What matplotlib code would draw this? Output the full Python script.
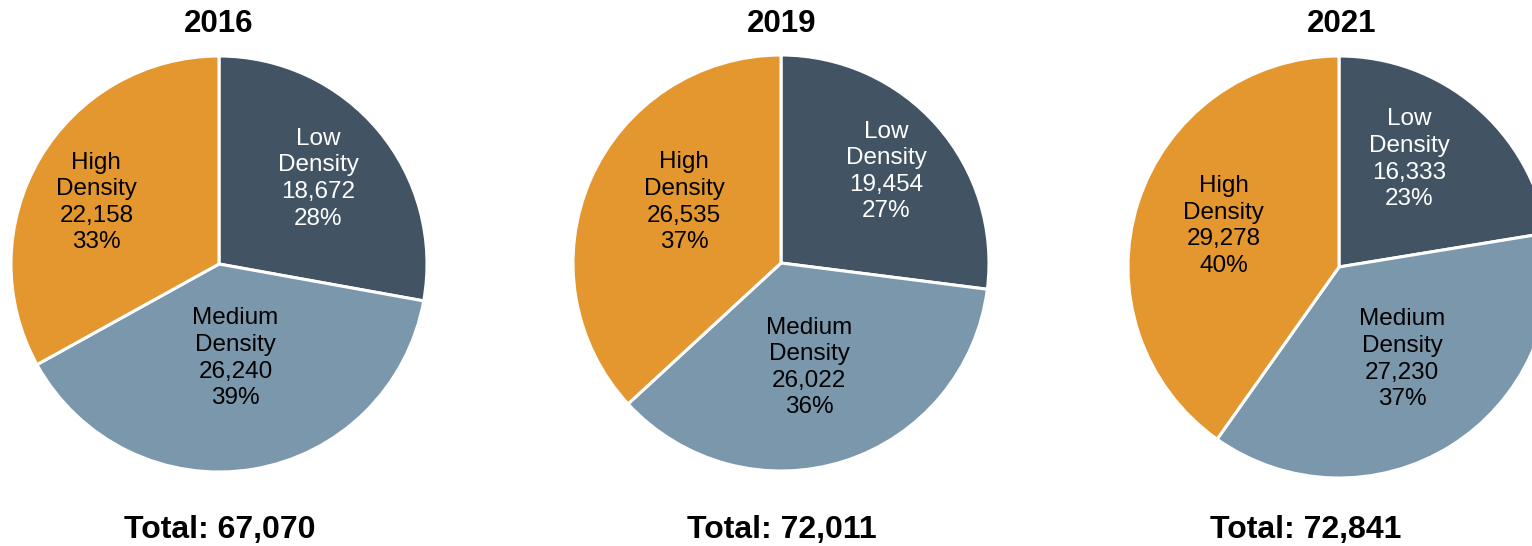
import matplotlib
matplotlib.use("Agg")
import matplotlib.pyplot as plt
import numpy as np

plt.rcParams['font.family'] = ['Liberation Sans', 'DejaVu Sans']

# Housing units by density type
years = ["2016", "2019", "2021"]
categories = ["Low Density", "Medium Density", "High Density"]
low_units = [18672, 19454, 16333]
medium_units = [26240, 26022, 27230]
high_units = [22158, 26535, 29278]
# published shares (%) per year: low, medium, high
low_pct = [28, 27, 23]
medium_pct = [39, 36, 37]
high_pct = [33, 37, 40]

colors = ["#425364", "#7A97AC", "#E3972E"]
text_colors = ["white", "black", "black"]

W, H = 1532, 546
fig = plt.figure(figsize=(W / 100, H / 100), dpi=100)
ax = fig.add_axes([0, 0, 1, 1])

# pie layout in pixel units (y measured from the top)
centers = [(219, 264), (781, 263), (1339, 267)]
radii = [208, 208, 211]
title_x = [219, 782, 1342]
total_x = [219.5, 782, 1306]
# label offsets per wedge: (radius fraction, angle in degrees)
label_pos = [
    [(0.63, 40.6), (0.46, -80.0), (0.66, 153.4)],
    [(0.67, 41.0), (0.52, -75.0), (0.55, 148.0)],
    [(0.61, 56.8), (0.53, -55.6), (0.58, 160.5)],
]

for i, yr in enumerate(years):
    vals = [low_units[i], medium_units[i], high_units[i]]
    pcts = [low_pct[i], medium_pct[i], high_pct[i]]
    total = sum(vals)
    cx, cy = centers[i]
    cy_d = H - cy
    r = radii[i]
    ax.pie(vals, colors=colors, startangle=90, counterclock=False,
           center=(cx, cy_d), radius=r,
           wedgeprops=dict(edgecolor="white", linewidth=2.2))
    for j, v in enumerate(vals):
        frac, ang = label_pos[i][j]
        lx = cx + frac * r * np.cos(np.radians(ang))
        ly = cy_d + frac * r * np.sin(np.radians(ang))
        name = categories[j].replace(" ", "\n")
        label = f"{name}\n{v:,}\n{pcts[j]}%"
        ax.text(lx, ly, label, ha="center", va="center", fontsize=17.5,
                color=text_colors[j], linespacing=1.27)
    ax.text(title_x[i], H - 24, yr, ha="center", va="center",
            fontsize=22.5, fontweight="bold", color="black")
    ax.text(total_x[i], H - 530, f"Total: {total:,}", ha="center",
            va="center", fontsize=23, fontweight="bold", color="black")

ax.set_xlim(0, W)
ax.set_ylim(0, H)
ax.set_aspect("equal")
ax.axis("off")

fig.savefig("out.png", dpi=100, facecolor="white")
